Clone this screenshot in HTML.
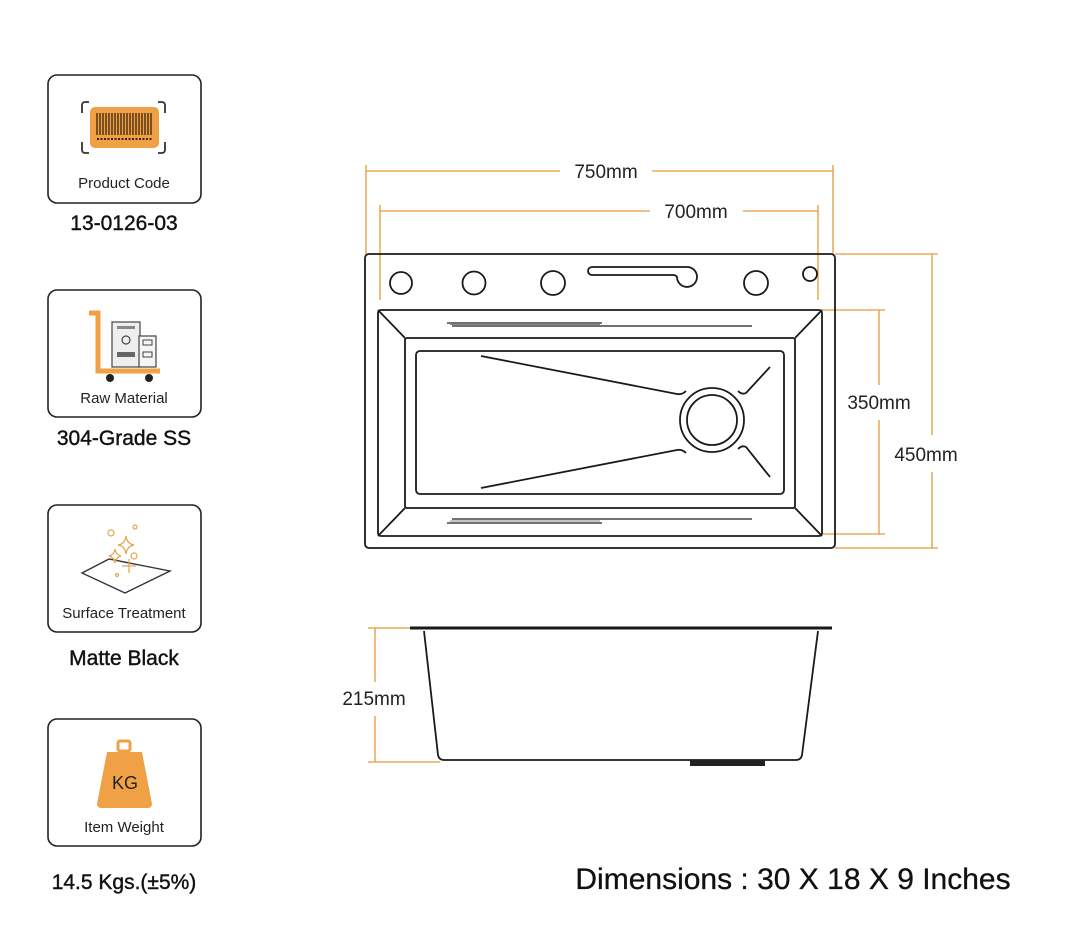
<!DOCTYPE html>
<html><head><meta charset="utf-8"><style>
html,body{margin:0;padding:0;background:#fff;}
svg{display:block;}
text{font-family:"Liberation Sans",sans-serif;}
</style></head><body>
<svg width="1080" height="936" viewBox="0 0 1080 936" xmlns="http://www.w3.org/2000/svg">
<rect width="1080" height="936" fill="#fff"/>
<g fill="none" stroke="#222" stroke-width="1.6">
<rect x="48" y="75" width="153" height="128" rx="9"/>
<rect x="48" y="290" width="153" height="127" rx="9"/>
<rect x="48" y="505" width="153" height="127" rx="9"/>
<rect x="48" y="719" width="153" height="127" rx="9"/>
</g>
<g>
<path d="M89,102 h-4 a3,3 0 0 0 -3,3 v8 M158,102 h4 a3,3 0 0 1 3,3 v8 M82,142 v8 a3,3 0 0 0 3,3 h4 M165,142 v8 a3,3 0 0 1 -3,3 h-4" fill="none" stroke="#333" stroke-width="1.8"/>
<rect x="90" y="107" width="69" height="41" rx="5" fill="#f0a145"/>
<g stroke="#3a2410" stroke-width="1.3">
<path d="M97,113v22M100,113v22M103,113v22M106,113v22M109,113v22M112,113v22M115,113v22M118,113v22M121,113v22M124,113v22M127,113v22M130,113v22M133,113v22M136,113v22M139,113v22M142,113v22M145,113v22M148,113v22M151,113v22"/>
<path d="M97,139h55" stroke-dasharray="2,1.5" stroke-width="2"/>
</g>
</g>
<g>
<path d="M89,313 h9 v58 h62" fill="none" stroke="#f0a145" stroke-width="5"/>
<circle cx="110" cy="378" r="4" fill="#222"/><circle cx="149" cy="378" r="4" fill="#222"/>
<rect x="112" y="322" width="28" height="45" fill="#eee" stroke="#444" stroke-width="1.2"/>
<rect x="117" y="326" width="18" height="3" fill="#888"/>
<circle cx="126" cy="340" r="4" fill="none" stroke="#444" stroke-width="1.2"/>
<rect x="117" y="352" width="18" height="5" fill="#666"/>
<rect x="139" y="336" width="17" height="31" fill="#f5f5f5" stroke="#444" stroke-width="1.2"/>
<rect x="143" y="340" width="9" height="5" fill="none" stroke="#444"/>
<rect x="143" y="352" width="9" height="5" fill="none" stroke="#444"/>
</g>
<g fill="none" stroke="#e3a64a" stroke-width="1.2">
<path d="M82,573 L109,559 L170,571 L125,593 Z" stroke="#333" stroke-width="1.4"/>
<circle cx="111" cy="533" r="3"/><circle cx="135" cy="527" r="2"/><circle cx="134" cy="556" r="3"/>
<path d="M126,536 q1,8 8,9 q-7,1 -8,9 q-1,-8 -8,-9 q7,-1 8,-9Z"/>
<path d="M115,549 q1,6 6,7 q-5,1 -6,7 q-1,-6 -6,-7 q5,-1 6,-7Z"/>
<path d="M129,559 v14 M122,566 h14"/>
<circle cx="117" cy="575" r="1.5"/>
</g>
<g>
<rect x="118" y="741" width="12" height="10" rx="2" fill="none" stroke="#f0a145" stroke-width="3"/>
<path d="M107,752 h35 l10,52 a4,4 0 0 1 -4,4 h-47 a4,4 0 0 1 -4,-4 z" fill="#f0a145"/>
<text x="125" y="789" font-size="18" text-anchor="middle" fill="#222">KG</text>
</g>
<g font-size="15" fill="#222" text-anchor="middle">
<text x="124" y="188">Product Code</text>
<text x="124" y="403">Raw Material</text>
<text x="124" y="618">Surface Treatment</text>
<text x="124" y="832">Item Weight</text>
</g>
<g font-size="21" fill="#111" text-anchor="middle" stroke="#111" stroke-width="0.4">
<text x="124" y="230">13-0126-03</text>
<text x="124" y="445">304-Grade SS</text>
<text x="124" y="665">Matte Black</text>
<text x="124" y="889">14.5 Kgs.(±5%)</text>
</g>

<g stroke="#e49a3a" stroke-width="1.3" fill="none">
<path d="M366,165V255M833,165V255M366,171H560M652,171H833"/>
<path d="M380,205V300M818,205V300M380,211H650M743,211H818"/>
<path d="M835,254H938M835,548H938M932,254V435M932,472V548"/>
<path d="M822,310H885M822,534H885M879,310V385M879,420V534"/>
<path d="M368,628H440M368,762H440M375,628V682M375,716V762"/>
</g>
<g font-size="19" fill="#222" text-anchor="middle">
<text x="606" y="178">750mm</text>
<text x="696" y="218">700mm</text>
<text x="879" y="409">350mm</text>
<text x="926" y="461">450mm</text>
<text x="374" y="705">215mm</text>
</g>

<g fill="none" stroke="#1a1a1a" stroke-width="1.8">
<rect x="365" y="254" width="470" height="294" rx="4"/>
<rect x="378" y="310" width="444" height="226" rx="3"/>
<rect x="405" y="338" width="390" height="170" rx="2"/>
<rect x="416" y="351" width="368" height="143" rx="4"/>
<path d="M378,310L405,338M822,310L795,338M378,536L405,508M822,536L795,508"/>
<circle cx="401" cy="283" r="11"/>
<circle cx="474" cy="283" r="11.5"/>
<circle cx="553" cy="283" r="12"/>
<circle cx="756" cy="283" r="12"/>
<circle cx="810" cy="274" r="7"/>
<path d="M592,267 H688 a10,10 0 1 1 -11,10 q-1,-2 -4,-2 H592 a4,4 0 0 1 0,-8 Z"/>
<circle cx="712" cy="420" r="32"/>
<circle cx="712" cy="420" r="25"/>
<path d="M481,356 L677,394 Q682,395 686,391"/>
<path d="M481,488 L677,450 Q682,449 686,453"/>
<path d="M738,391 Q742,395 746,393 L770,367"/>
<path d="M738,449 Q742,445 746,447 L770,477"/>
</g>
<g stroke="#444" stroke-width="1.5">
<path d="M447,323H602M452,326H752"/>
<path d="M452,519H752M447,523H602"/>
</g>
<g stroke="#888" stroke-width="1"><path d="M450,324.5H600M450,521H600"/></g>

<g fill="none" stroke="#1a1a1a">
<path d="M410,628H832" stroke-width="3"/>
<path d="M424,631 L438,755 Q439,760 444,760 H796 Q801,760 802,755 L818,631" stroke-width="1.8"/>
</g>
<rect x="690" y="760" width="75" height="6" fill="#222"/>

<text x="793" y="889" font-size="30" fill="#111" stroke="#111" stroke-width="0.3" text-anchor="middle">Dimensions : 30 X 18 X 9 Inches</text>
</svg>
</body></html>
